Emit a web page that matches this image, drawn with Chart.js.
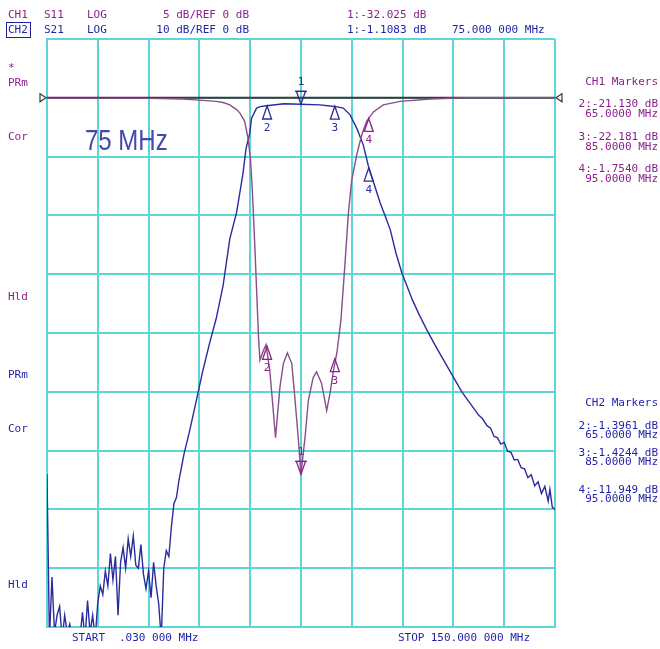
<!DOCTYPE html>
<html>
<head>
<meta charset="utf-8">
<script src="https://cdn.jsdelivr.net/npm/chart.js@4.4.1/dist/chart.umd.min.js"></script>
<style>
html, body { margin: 0; padding: 0; background: #fff; }
#wrap { width: 660px; height: 649px; }
</style>
</head>
<body>
<div id="wrap"><canvas id="mycanvas"></canvas></div>
<script>
// CH1 S11 (5 dB/div)
var freqS11 = [0.03, 10, 20, 30, 40, 45, 50, 52, 54, 56, 57, 58.4, 59.4, 60.1, 60.7, 61.4, 62, 62.5, 62.9,
	63.9, 64.7, 65.8, 66.5, 67.5, 68.8, 69.8, 71, 72.3, 73.2, 74.2, 75, 76.2, 77.2, 78.6, 79.6, 81.1,
	82.6, 83.6, 84.6, 85.6, 86.8, 88, 89, 90, 91.5, 93, 94.4, 95, 96.4, 99.3, 104.3, 113.2, 123, 150];
var s11 = [-0.05, -0.05, -0.05, -0.05, -0.1, -0.2, -0.3, -0.4, -0.6, -1.0, -1.3, -2.0, -3.5, -5.2, -8.2, -12.7, -17, -20.5, -22.3,
	-21.5, -21.0, -23.2, -25.5, -28.9, -24.6, -22.6, -21.7, -22.6, -25.5, -28.9, -32.0, -28.9, -25.7, -23.8, -23.3, -24.3,
	-26.6, -25.1, -23.2, -21.7, -18.9, -14.1, -9.8, -7.0, -4.8, -3.1, -2.0, -1.75, -1.2, -0.6, -0.3, -0.1, 0, 0];

// CH2 S21 (10 dB/div)
var freqS21 = [0.03, 0.75, 1.5, 2.25, 3, 3.75, 4.5, 5.25, 6, 6.75, 7.5, 8.25, 9, 9.75, 10.5, 11.25, 12, 12.75, 13.5, 14.25,
	15, 15.75, 16.5, 17.25, 18, 18.75, 19.5, 20.25, 21, 21.75, 22.5, 23.25, 24, 24.75, 25.5, 26.25, 27, 27.75, 28.5, 29.25,
	30, 30.75, 31.5, 32.25, 33, 33.75, 34.5, 35.25, 36, 36.75, 37.5, 38.25, 39, 40.5, 42, 44, 46, 48, 50, 52,
	54, 56, 57, 57.9, 58.8, 59.9, 60.4, 61.9, 63, 64.9, 70, 75, 80.6, 83.6, 85, 87.5, 89.5, 91.5, 93.4, 94.9,
	96.5, 98.4, 100, 101.4, 103, 104.8, 108, 110, 112.2, 115, 117.5, 120, 122.5, 125, 127.5, 128.5, 130, 131, 132, 133,
	134, 135, 136, 137, 138, 139, 140, 141, 142, 143, 144, 145, 146, 147, 148, 148.5, 149.2, 150];
var s21 = [-64, -92, -81.5, -91, -88, -86.5, -92, -88, -91, -89.5, -92, -92, -92, -92, -87.5, -92, -85.5, -91, -88, -92,
	-86, -83, -84.5, -80.5, -83, -77.5, -82, -78, -88, -79, -76.5, -80, -75, -78, -74.5, -79.5, -80, -76, -81, -83.5,
	-80.5, -85, -79, -83, -86, -92, -80, -77, -78, -73, -69, -68, -65, -60.5, -57, -51.8, -46.5, -41.8, -37.5, -32,
	-24, -19.5, -16, -12.8, -8.6, -6, -3.5, -1.75, -1.5, -1.35, -1.0, -1.1, -1.2, -1.4, -1.45, -1.75, -2.9, -5.2, -8.0, -11.6,
	-14.5, -17.9, -20.3, -22.5, -26.3, -29.8, -34.5, -37, -39.5, -42.5, -45, -47.5, -50, -52, -54, -54.5, -55.8, -56.2, -57.6, -57.8,
	-58.9, -58.6, -60.1, -60.3, -61.6, -61.5, -62.9, -63.1, -64.6, -64.1, -66, -65.3, -67.3, -66.1, -68.6, -66.6, -69.6, -70];

// markers 1..4
var markerNo = ["1", "2", "3", "4"];
var markerFreq = [75, 65, 85, 95];
var markerS11 = [-32.025, -21.130, -22.181, -1.7540];
var markerS21 = [-1.1083, -1.3961, -1.4244, -11.949];

// grid divisions
var xTicks = [0.03, 15, 30, 45, 60, 75, 90, 105, 120, 135, 150];

var purpleText = "#8b1f8b";
var blueText = "#1f1fa8";
var purpleTrace = "#8a4d8e";
var blueTrace = "#2b2b9e";
var gridColor = "#5cd6d6";
var mono = '11px "DejaVu Sans Mono", "Liberation Mono", monospace';

function pts(xs, ys) {
	var out = [];
	for (var i in xs) out.push({x: xs[i], y: ys[i]});
	return out;
}

// analyzer shows 5 significant digits
function fmtMarker(v) {
	return v.toPrecision(5);
}

var refPlugin = {
	id: "refline",
	beforeDatasetsDraw: function(chart) {
		var ctx = chart.ctx, a = chart.chartArea;
		var y = chart.scales.y.getPixelForValue(0);
		ctx.save();
		ctx.strokeStyle = "#3a3a3a";
		ctx.lineWidth = 2;
		ctx.beginPath();
		ctx.moveTo(a.left, y);
		ctx.lineTo(a.right, y);
		ctx.stroke();
		ctx.lineWidth = 1.2;
		ctx.beginPath();
		ctx.moveTo(a.left - 7, y - 4); ctx.lineTo(a.left - 1, y); ctx.lineTo(a.left - 7, y + 4); ctx.closePath();
		ctx.moveTo(a.right + 7, y - 4); ctx.lineTo(a.right + 1, y); ctx.lineTo(a.right + 7, y + 4); ctx.closePath();
		ctx.stroke();
		ctx.restore();
	}
};

function drawMarker(ctx, x, y, label, color) {
	var down = label === "1";
	var d = down ? -1 : 1;
	ctx.strokeStyle = color;
	ctx.fillStyle = color;
	ctx.lineWidth = 1.3;
	ctx.beginPath();
	ctx.moveTo(x, y);
	ctx.lineTo(x - 4.5, y + 13 * d);
	ctx.lineTo(x + 4.5, y + 13 * d);
	ctx.closePath();
	ctx.stroke();
	if (down) {
		ctx.beginPath();
		ctx.moveTo(x - 6, y - 13);
		ctx.lineTo(x + 6, y - 13);
		ctx.stroke();
	}
	ctx.font = mono;
	ctx.textAlign = "center";
	ctx.textBaseline = "middle";
	ctx.fillText(label, x, y + 22 * d);
}

var markerPlugin = {
	id: "markers",
	afterDatasetsDraw: function(chart) {
		var ctx = chart.ctx;
		var xs = chart.scales.x, y1 = chart.scales.y, y2 = chart.scales.y2;
		ctx.save();
		for (var i in markerFreq) {
			var px = xs.getPixelForValue(markerFreq[i]);
			drawMarker(ctx, px, y1.getPixelForValue(markerS11[i]), markerNo[i], purpleText);
			drawMarker(ctx, px, y2.getPixelForValue(markerS21[i]), markerNo[i], blueTrace);
		}
		ctx.restore();
	}
};

function txt(ctx, s, x, y, color, align) {
	ctx.fillStyle = color;
	ctx.textAlign = align || "left";
	ctx.fillText(s, x, y);
}

var textPlugin = {
	id: "texts",
	afterDraw: function(chart) {
		var ctx = chart.ctx;
		ctx.save();
		ctx.font = mono;
		ctx.textBaseline = "middle";

		// header
		txt(ctx, "CH1", 8, 15, purpleText);
		txt(ctx, "S11", 44, 15, purpleText);
		txt(ctx, "LOG", 87, 15, purpleText);
		txt(ctx, "5 dB/REF 0 dB", 249, 15, purpleText, "right");
		txt(ctx, "1:" + fmtMarker(markerS11[0]) + " dB", 347, 15, purpleText);

		txt(ctx, "CH2", 8, 30, blueText);
		ctx.strokeStyle = blueText;
		ctx.lineWidth = 1;
		ctx.strokeRect(6.5, 22.5, 24, 15);
		txt(ctx, "S21", 44, 30, blueText);
		txt(ctx, "LOG", 87, 30, blueText);
		txt(ctx, "10 dB/REF 0 dB", 249, 30, blueText, "right");
		txt(ctx, "1:" + fmtMarker(markerS21[0]) + " dB", 347, 30, blueText);
		txt(ctx, "75.000 000 MHz", 452, 30, blueText);

		// left status labels
		txt(ctx, "*", 8, 68, purpleText);
		txt(ctx, "PRm", 8, 83, purpleText);
		txt(ctx, "Cor", 8, 137, purpleText);
		txt(ctx, "Hld", 8, 297, purpleText);
		txt(ctx, "PRm", 8, 375, blueText);
		txt(ctx, "Cor", 8, 429, blueText);
		txt(ctx, "Hld", 8, 585, blueText);

		// marker tables
		var rx = 658;
		txt(ctx, "CH1 Markers", rx, 82, purpleText, "right");
		var r1 = [104, 137, 169];
		var r2 = [426, 453, 490];
		for (var i = 1; i < 4; i++) {
			txt(ctx, markerNo[i] + ":" + fmtMarker(markerS11[i]) + " dB", rx, r1[i - 1], purpleText, "right");
			txt(ctx, markerFreq[i].toFixed(4) + " MHz", rx, r1[i - 1] + 10, purpleText, "right");
		}
		txt(ctx, "CH2 Markers", rx, 403, blueText, "right");
		for (var j = 1; j < 4; j++) {
			txt(ctx, markerNo[j] + ":" + fmtMarker(markerS21[j]) + " dB", rx, r2[j - 1], blueText, "right");
			txt(ctx, markerFreq[j].toFixed(4) + " MHz", rx, r2[j - 1] + 9, blueText, "right");
		}

		// start / stop
		txt(ctx, "START", 72, 638, blueText);
		txt(ctx, ".030 000 MHz", 119, 638, blueText);
		txt(ctx, "STOP", 398, 638, blueText);
		txt(ctx, "150.000 000 MHz", 530, 638, blueText, "right");

		// big annotation
		ctx.save();
		ctx.translate(85, 142);
		ctx.scale(0.8, 1);
		ctx.font = '30px "Liberation Sans", Arial, sans-serif';
		ctx.fillStyle = "#4646b0";
		ctx.textAlign = "left";
		ctx.fillText("75 MHz", 0, 0);
		ctx.restore();

		ctx.restore();
	}
};

var ctx = document.getElementById("mycanvas");

var chartdata = {
	datasets: [
		{
			label: "S11",
			data: pts(freqS11, s11),
			yAxisID: "y",
			borderColor: purpleTrace,
			borderWidth: 1.4,
			pointRadius: 0,
			tension: 0,
			fill: false
		},
		{
			label: "S21",
			data: pts(freqS21, s21),
			yAxisID: "y2",
			borderColor: blueTrace,
			borderWidth: 1.4,
			pointRadius: 0,
			tension: 0,
			fill: false
		}
	]
};

var graph = new Chart(ctx, {
	type: "line",
	data: chartdata,
	plugins: [refPlugin, markerPlugin, textPlugin],
	options: {
		responsive: true,
		maintainAspectRatio: false,
		animation: false,
		layout: { padding: { left: 47, right: 105, top: 39, bottom: 22 } },
		plugins: { legend: { display: false }, tooltip: { enabled: false } },
		scales: {
			x: {
				type: "linear",
				min: 0.03,
				max: 150,
				afterBuildTicks: function(axis) {
					axis.ticks = xTicks.map(function(v) { return {value: v}; });
				},
				ticks: { display: false },
				grid: { color: gridColor, lineWidth: 2, drawTicks: false },
				border: { color: gridColor, width: 2 }
			},
			y: {
				min: -45,
				max: 5,
				ticks: { display: false, stepSize: 5 },
				grid: { color: gridColor, lineWidth: 2, drawTicks: false },
				border: { color: gridColor, width: 2 }
			},
			y2: {
				display: false,
				min: -90,
				max: 10
			}
		}
	}
});
</script>
</body>
</html>
